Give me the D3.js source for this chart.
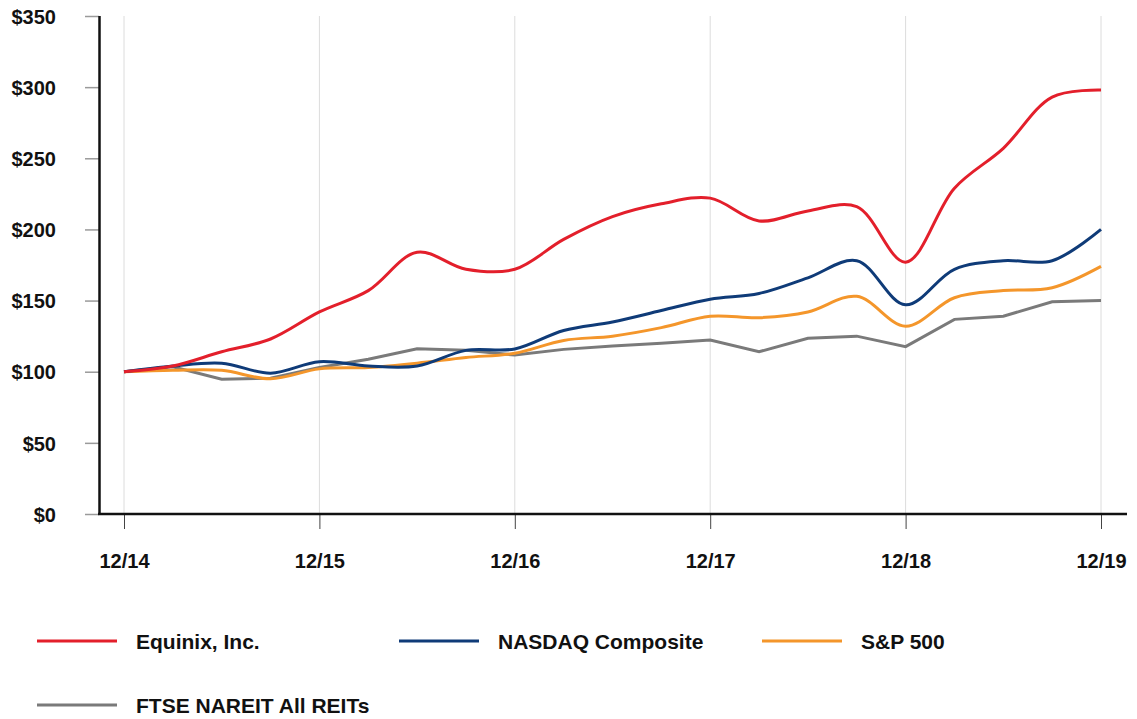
<!DOCTYPE html>
<html>
<head>
<meta charset="utf-8">
<script src="https://cdn.jsdelivr.net/npm/d3@7"></script>
<style>
  body { margin: 0; background: white; }
  text { font-family: "Liberation Sans", Arial, sans-serif; font-weight: bold; }
</style>
</head>
<body>
<div id="container"></div>
<script>
let w = 1137;
let h = 719;

// quarters from 12/14 to 12/19
let quarters = ["12/14","3/15","6/15","9/15","12/15","3/16","6/16","9/16","12/16",
  "3/17","6/17","9/17","12/17","3/18","6/18","9/18","12/18","3/19","6/19","9/19","12/19"];
let yearLabels = ["12/14","12/15","12/16","12/17","12/18","12/19"];
let yTicks = [0, 50, 100, 150, 200, 250, 300, 350];

let equinix = [100,104,114,123,142,157,184,172,172,193,209,218,222,206,213,216,177,229,257,293,298];
let nasdaq  = [100,104,106,99,107,104,104,115,116,129,135,143,151,155,166,178,147,172,178,178,200];
let sp500   = [100,101,101,95,102,103,106,110,113,122,125,131,139,138,142,153,132,152,157,159,174];
let ftse    = [100,103.5,94.7,95.4,103,108.7,116.2,115,111.7,115.7,118,120,122.3,114,123.5,125,117.6,136.8,139,149.2,150];

let seriesNames = ["Equinix, Inc.", "NASDAQ Composite", "S&P 500", "FTSE NAREIT All REITs"];
let colors = ["#e31f2b", "#0f3b78", "#f4962b", "#7a7a7a"];

let viz = d3.select("#container").append("svg")
    .attr("width", w)
    .attr("height", h)
    .style("background-color", "white")
;

let xScale = d3.scalePoint().domain(quarters).range([124, 1101]);
let yScale = d3.scaleLinear().domain([0, 350]).range([514, 16]);

// vertical gridlines at each year
viz.append("g").selectAll("line").data(yearLabels).enter()
  .append("line")
    .attr("x1", d => xScale(d)).attr("x2", d => xScale(d))
    .attr("y1", yScale(350)).attr("y2", yScale(0))
    .attr("stroke", "#dcdcdc")
    .attr("stroke-width", 1)
;

// y axis
let yAxis = d3.axisLeft(yScale).tickValues(yTicks).tickFormat(d => "$" + d).tickSize(14).tickPadding(29);
let yAxisGroup = viz.append("g")
    .attr("class", "yaxisgroup")
    .attr("transform", "translate(99,0)")
;
yAxisGroup.call(yAxis);
yAxisGroup.select(".domain").remove();
yAxisGroup.selectAll("line").attr("stroke", "#9a9a9a").attr("stroke-width", 1.5);
yAxisGroup.selectAll("text")
    .attr("font-size", 20)
    .attr("fill", "#111")
    .attr("dy", "0.36em")
;

// x axis
let xAxis = d3.axisBottom(xScale).tickValues(yearLabels).tickSize(15).tickPadding(0);
let xAxisGroup = viz.append("g")
    .attr("class", "xaxisgroup")
    .attr("transform", "translate(0,514)")
;
xAxisGroup.call(xAxis);
xAxisGroup.select(".domain").remove();
xAxisGroup.selectAll("line").attr("stroke", "#444").attr("stroke-width", 1);
xAxisGroup.selectAll("text")
    .attr("font-size", 20)
    .attr("fill", "#111")
    .attr("y", 54)
    .attr("dy", 0)
;

// axis lines
viz.append("line")
    .attr("x1", 99.5).attr("x2", 99.5)
    .attr("y1", yScale(350)).attr("y2", 515)
    .attr("stroke", "#111").attr("stroke-width", 2.5);
viz.append("line")
    .attr("x1", 98).attr("x2", 1127)
    .attr("y1", 514).attr("y2", 514)
    .attr("stroke", "#111").attr("stroke-width", 2.5);

// lines
let smooth = d3.line()
    .x((d, i) => xScale(quarters[i]))
    .y(d => yScale(d))
    .curve(d3.curveCatmullRom.alpha(0.5));
let straight = d3.line()
    .x((d, i) => xScale(quarters[i]))
    .y(d => yScale(d));

let allSeries = [equinix, nasdaq, sp500, ftse];
// draw gray first so colored lines sit on top
viz.append("path")
    .attr("d", straight(ftse))
    .attr("fill", "none")
    .attr("stroke", colors[3])
    .attr("stroke-width", 3);
[sp500, nasdaq, equinix].forEach(function(s){
  let idx = allSeries.indexOf(s);
  viz.append("path")
      .attr("d", smooth(s))
      .attr("fill", "none")
      .attr("stroke", colors[idx])
      .attr("stroke-width", 3);
});

// legend
let legendPos = [[37, 641], [399, 641], [762, 641], [37, 705]];
let legend = viz.selectAll(".legend").data(seriesNames).enter()
  .append("g")
    .attr("class", "legend")
    .attr("transform", (d, i) => "translate(" + legendPos[i][0] + "," + legendPos[i][1] + ")")
;
legend.append("line")
    .attr("x1", 0).attr("x2", 80)
    .attr("stroke", (d, i) => colors[i])
    .attr("stroke-width", 3);
legend.append("text")
    .attr("x", 99)
    .attr("dy", "0.36em")
    .attr("font-size", 21)
    .attr("fill", "#111")
    .text(d => d);
</script>
</body>
</html>
